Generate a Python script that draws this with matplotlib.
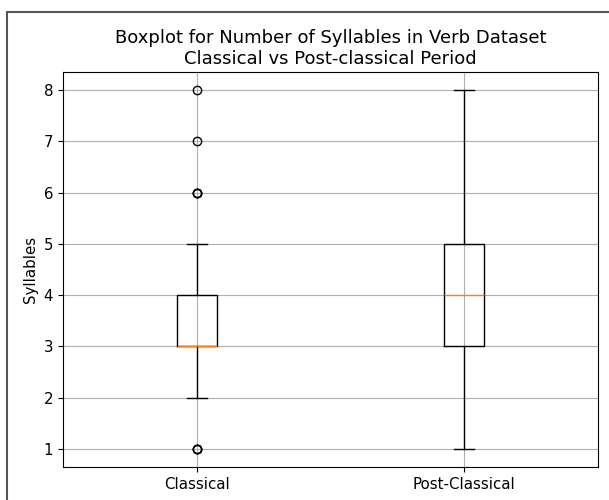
import matplotlib.pyplot as plt
from matplotlib.patches import Rectangle

# Boxplot stats
labels = ['Classical', 'Post-Classical']
q1 = [3, 3]
medians = [3, 4]
q3 = [4, 5]
whislo = [2, 1]
whishi = [5, 8]
fliers = [[1, 1, 1, 6, 6, 6, 7, 8], []]

stats = []
for i in range(len(labels)):
    stats.append({'label': labels[i], 'q1': q1[i], 'med': medians[i], 'q3': q3[i],
                  'whislo': whislo[i], 'whishi': whishi[i], 'fliers': fliers[i]})

plt.rcParams['font.size'] = 10.8

fig = plt.figure(figsize=(6.09, 5.0), dpi=100)
ax = fig.add_axes([0.1035, 0.066, 0.8785, 0.79])

ax.bxp(stats)
ax.set_ylim(0.65, 8.35)
ax.grid(True)
ax.set_axisbelow(True)

# Add a title and axis labels
ax.set_title('Boxplot for Number of Syllables in Verb Dataset\nClassical vs Post-classical Period', fontsize=13)
ax.set_ylabel('Syllables')

# outer frame of the screenshot
fig.patches.append(Rectangle((7 / 609, -0.1), 1.2, 1 - 12 / 500 + 0.1, transform=fig.transFigure,
                             fill=False, edgecolor='#555555', linewidth=1.5))

fig.savefig('out.png', dpi=100)
